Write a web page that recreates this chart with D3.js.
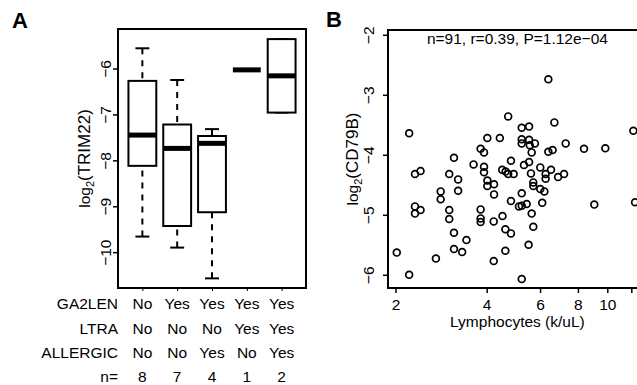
<!DOCTYPE html>
<html><head><meta charset="utf-8">
<script src="https://cdn.jsdelivr.net/npm/d3@7"></script>
<style>
body{margin:0;background:#fff}
svg{display:block}
text{font-family:"Liberation Sans",Arial,Helvetica,sans-serif;fill:#000}
</style>
</head><body>
<svg id="c" width="637" height="385"></svg>
<script>
// ---------- Panel A data ----------
const groups = [1, 2, 3, 4, 5];
const ga2len   = ["No", "Yes", "Yes", "Yes", "Yes"];
const ltra     = ["No", "No", "No", "Yes", "Yes"];
const allergic = ["No", "No", "Yes", "No", "Yes"];
const groupN   = [8, 7, 4, 1, 2];
const whiskerLow  = [-9.66, -9.90, -10.57, -6.03, -6.96];
const q1          = [-8.12, -9.43, -9.13, -6.03, -6.96];
const median      = [-7.45, -7.74, -7.63, -6.03, -6.16];
const q3          = [-6.27, -7.22, -7.47, -6.03, -5.36];
const whiskerHigh = [-5.56, -6.25, -7.32, -6.03, -5.36];
const trimTicks = [-10, -9, -8, -7, -6];

// ---------- Panel B data ----------
const lymphocytes = [6.39,4.71,6.69,5.22,5.52,2.22,12.19,4.02,4.42,5.22,5.52,5.22,5.77,3.82,3.92,5.63,6.39,6.60,7.29,8.38,9.85,5.55,
  3.12,3.62,3.92,3.92,4.81,4.50,4.62,4.71,4.91,5.31,5.52,6.01,6.52,5.60,6.26,6.26,6.88,7.20,2.32,2.42,3.01,3.22,2.82,2.82,3.22,
  4.02,4.02,4.23,4.23,5.70,5.70,6.01,6.20,5.22,4.81,5.11,5.22,5.42,6.10,9.06,12.35,2.32,2.32,2.42,3.01,3.01,3.82,3.82,3.82,4.22,
  4.51,5.63,5.70,4.61,4.81,3.12,3.43,3.12,3.32,2.72,4.61,5.50,4.22,2.22,5.22,2.02];
const cd79b = [-2.74,-3.36,-3.46,-3.55,-3.53,-3.64,-3.60,-3.72,-3.72,-3.74,-3.75,-3.81,-3.81,-3.90,-3.96,-3.96,-3.95,-3.92,-3.81,-3.90,-3.89,-3.84,
  -4.05,-4.16,-4.20,-4.29,-4.10,-4.25,-4.28,-4.32,-4.32,-4.17,-4.12,-4.21,-4.25,-4.31,-4.32,-4.40,-4.37,-4.32,-4.32,-4.27,-4.32,-4.41,-4.61,-4.74,-4.60,
  -4.43,-4.52,-4.49,-4.66,-4.46,-4.52,-4.57,-4.61,-4.64,-4.77,-4.86,-4.85,-4.82,-4.80,-4.83,-4.79,-4.86,-4.98,-4.92,-4.92,-5.07,-4.91,-5.06,-5.12,-5.11,
  -5.02,-4.98,-5.20,-5.24,-5.31,-5.30,-5.42,-5.57,-5.62,-5.73,-5.60,-5.50,-5.77,-6.00,-6.07,-5.63];
const cdTicks = [-6, -5, -4, -3, -2];
const lymphTicks = [2, 4, 6, 8, 10, 12];
const lymphLabels = ["2", "4", "6", "8", "10", ""];
const statText = "n=91, r=0.39, P=1.12e\u221204";

const FS = 15.5;
const minus = v => (v < 0 ? "\u2212" + Math.abs(v) : "" + v);
const svg = d3.select("#c");
svg.append("rect").attr("width", 637).attr("height", 385).attr("fill", "#fff");

// ================= Panel A =================
const A = {l: 118, r: 306, t: 29, b: 288};
const xA = d3.scaleLinear().domain([0.3, 5.7]).range([A.l, A.r]);
const yA = d3.scaleLinear().domain([-10.78, -5.14]).range([A.b, A.t]);
const bw = (xA(1.4) - xA(1)) ;   // half of 0.8 box width
const gA = svg.append("g");

const boxes = groups.map((g, i) => ({g, lo: whiskerLow[i], q1: q1[i], med: median[i], q3: q3[i], hi: whiskerHigh[i]}));
const bx = gA.selectAll("g.box").data(boxes).join("g").attr("class", "box");
// whiskers (dashed, drawn from the whisker end toward the box)
bx.append("line").attr("x1", d => xA(d.g)).attr("x2", d => xA(d.g))
  .attr("y1", d => yA(d.lo)).attr("y2", d => yA(d.q1))
  .attr("stroke", "#000").attr("stroke-width", 2).attr("stroke-dasharray", "6,6");
bx.append("line").attr("x1", d => xA(d.g)).attr("x2", d => xA(d.g))
  .attr("y1", d => yA(d.hi)).attr("y2", d => yA(d.q3))
  .attr("stroke", "#000").attr("stroke-width", 2).attr("stroke-dasharray", "6,6");
// staples
[["lo"], ["hi"]].forEach(([k]) => {
  bx.append("line").attr("x1", d => xA(d.g) - bw / 2).attr("x2", d => xA(d.g) + bw / 2)
    .attr("y1", d => yA(d[k])).attr("y2", d => yA(d[k]))
    .attr("stroke", "#000").attr("stroke-width", 2);
});
// box
bx.append("rect").attr("x", d => xA(d.g) - bw).attr("width", 2 * bw)
  .attr("y", d => yA(d.q3)).attr("height", d => yA(d.q1) - yA(d.q3))
  .attr("fill", "#fff").attr("stroke", "#000").attr("stroke-width", 2);
// median
bx.append("line").attr("x1", d => xA(d.g) - bw).attr("x2", d => xA(d.g) + bw)
  .attr("y1", d => yA(d.med)).attr("y2", d => yA(d.med))
  .attr("stroke", "#000").attr("stroke-width", 5);

// frame
gA.append("rect").attr("x", A.l).attr("y", A.t).attr("width", A.r - A.l).attr("height", A.b - A.t)
  .attr("fill", "none").attr("stroke", "#000").attr("stroke-width", 2);

// y axis
const axA = gA.append("g").attr("transform", `translate(${A.l},0)`)
  .call(d3.axisLeft(yA).tickValues(trimTicks).tickSize(5).tickSizeOuter(0).tickFormat(minus));
axA.select(".domain").remove();
axA.selectAll("line").attr("stroke-width", 1.5);
axA.selectAll("text").attr("transform", "rotate(-90)").attr("text-anchor", "middle")
  .attr("x", 0).attr("y", -7).attr("dy", 0).style("font-size", FS + "px")
  .style("font-family", '"Liberation Sans",Arial,sans-serif');

// x ticks (no labels)
const axAx = gA.append("g").attr("transform", `translate(0,${A.b})`)
  .call(d3.axisBottom(xA).tickValues(groups).tickSize(3).tickSizeOuter(0).tickFormat(""));
axAx.select(".domain").remove();
axAx.selectAll("line").attr("stroke-width", 1);

// y title
const tA = gA.append("text").attr("transform", `translate(90,${(A.t + A.b) / 2}) rotate(-90)`)
  .attr("text-anchor", "middle").style("font-size", FS + "px");
tA.append("tspan").text("log");
tA.append("tspan").text("2").style("font-size", "11px").attr("dy", 4);
tA.append("tspan").text("(TRIM22)").attr("dy", -4).style("font-size", "17px");

// table
const rows = [["GA2LEN", ga2len, 308.5], ["LTRA", ltra, 333.5], ["ALLERGIC", allergic, 357.5], ["n=", groupN, 381.5]];
rows.forEach(([lab, vals, y]) => {
  gA.append("text").attr("x", A.l).attr("y", y).attr("text-anchor", "end").style("font-size", FS + "px").text(lab);
  gA.selectAll(null).data(vals).join("text").attr("x", (d, i) => xA(groups[i])).attr("y", y)
    .attr("text-anchor", "middle").style("font-size", FS + "px").text(d => d);
});

svg.append("text").attr("x", 12).attr("y", 28).style("font-size", "22px").style("font-weight", "bold").text("A");

// ================= Panel B =================
const B = {l: 388, r: 646.8, t: 30, b: 288};
const xB = d3.scaleLog().domain([1.89, 13.5]).range([B.l, B.r]);
const yB = d3.scaleLinear().domain([-6.22, -1.92]).range([B.b, B.t]);
const gB = svg.append("g");

gB.selectAll("circle").data(lymphocytes.map((x, i) => ({x, y: cd79b[i]}))).join("circle")
  .attr("cx", d => xB(d.x)).attr("cy", d => yB(d.y)).attr("r", 3.4)
  .attr("fill", "none").attr("stroke", "#000").attr("stroke-width", 1.7);

gB.append("rect").attr("x", B.l).attr("y", B.t).attr("width", B.r - B.l).attr("height", B.b - B.t)
  .attr("fill", "none").attr("stroke", "#000").attr("stroke-width", 2);

const axBy = gB.append("g").attr("transform", `translate(${B.l},0)`)
  .call(d3.axisLeft(yB).tickValues(cdTicks).tickSize(5).tickSizeOuter(0).tickFormat(minus));
axBy.select(".domain").remove();
axBy.selectAll("line").attr("stroke-width", 1.5);
axBy.selectAll("text").attr("transform", "rotate(-90)").attr("text-anchor", "middle")
  .attr("x", 0).attr("y", -14).attr("dy", 0).style("font-size", FS + "px")
  .style("font-family", '"Liberation Sans",Arial,sans-serif');

const axBx = gB.append("g").attr("transform", `translate(0,${B.b})`)
  .call(d3.axisBottom(xB).tickValues(lymphTicks).tickSize(5).tickSizeOuter(0)
    .tickFormat((d, i) => lymphLabels[i]));
axBx.select(".domain").remove();
axBx.selectAll("line").attr("stroke-width", 1.5);
axBx.selectAll("text").attr("y", 21.5).attr("dy", 0).style("font-size", FS + "px")
  .style("font-family", '"Liberation Sans",Arial,sans-serif');

gB.append("text").attr("x", (B.l + B.r) / 2).attr("y", 327).attr("text-anchor", "middle")
  .style("font-size", FS + "px").text("Lymphocytes (k/uL)");

const tB = gB.append("text").attr("transform", `translate(358,${(B.t + B.b) / 2}) rotate(-90)`)
  .attr("text-anchor", "middle").style("font-size", FS + "px");
tB.append("tspan").text("log");
tB.append("tspan").text("2").style("font-size", "11px").attr("dy", 4);
tB.append("tspan").text("(CD79B)").attr("dy", -4).style("font-size", "17px");

gB.append("text").attr("x", (B.l + B.r) / 2).attr("y", 44).attr("text-anchor", "middle")
  .style("font-size", FS + "px").text(statText);

svg.append("text").attr("x", 326).attr("y", 27).style("font-size", "22px").style("font-weight", "bold").text("B");
</script>
</body></html>
